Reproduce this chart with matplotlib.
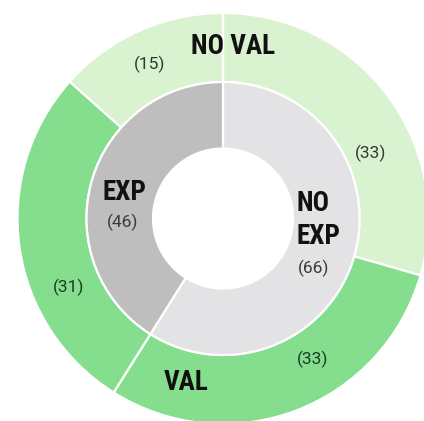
import matplotlib
matplotlib.use("Agg")
import matplotlib.pyplot as plt
from matplotlib import font_manager

# Inner ring: experience split
inner_labels = ["NO\nEXP", "EXP"]
inner_values = [66, 46]
# Outer ring: validation split within each experience group
outer_labels = ["NO VAL", "VAL", "VAL", "NO VAL"]
outer_values = [33, 33, 31, 15]

inner_colors = ["#e3e3e6", "#bebebe"]
outer_colors = ["#d9f2d0", "#84de8e", "#84de8e", "#d9f2d0"]

names = {f.name for f in font_manager.fontManager.ttflist}
bold_family = [n for n in ("Roboto Condensed", "Roboto", "Liberation Sans") if n in names]

W, H = 424, 421
cx, cy, R = 223.0, 218.5, 205.5

fig = plt.figure(figsize=(W / 100, H / 100), dpi=100)
ax = fig.add_axes([0, 0, 1, 1])
ax.axis("off")

r_mid = 136.5 / R
r_hole = 70.0 / R

ax.pie(outer_values, radius=1.0, colors=outer_colors, startangle=90,
       counterclock=False,
       wedgeprops=dict(width=1.0 - r_mid, edgecolor="white", linewidth=1.6))
ax.pie(inner_values, radius=r_mid, colors=inner_colors, startangle=90,
       counterclock=False,
       wedgeprops=dict(width=r_mid - r_hole, edgecolor="white", linewidth=1.6))
ax.set_xlim(-cx / R, (W - cx) / R)
ax.set_ylim(-(H - cy) / R, cy / R)
ax.set_aspect("auto")


def px(x, y):
    return (x - cx) / R, (cy - y) / R


def bold(x, y, s, ha="center"):
    ax.text(*px(x, y), s, ha=ha, va="center", fontsize=19.5,
            fontweight="bold", family=bold_family, color="#111111")


def count(x, y, v, color="#333333"):
    ax.text(*px(x, y), f"({v})", ha="center", va="center", fontsize=12.5,
            family=["Roboto", "Liberation Sans"], color=color)


bold(233, 47, outer_labels[0])
bold(186, 382, outer_labels[1])
bold(124, 193, inner_labels[1])
bold(297, 204, "NO", ha="left")
bold(297, 237, "EXP", ha="left")

count(371, 153, outer_values[0], "#2f3a2f")
count(313, 359, outer_values[1], "#1f3a24")
count(69, 287, outer_values[2], "#1f3a24")
count(150, 64, outer_values[3], "#2f3a2f")
count(123, 222, inner_values[1], "#3a3a3a")
count(314, 268, inner_values[0], "#3a3a3a")

fig.savefig("out.png", dpi=100)
